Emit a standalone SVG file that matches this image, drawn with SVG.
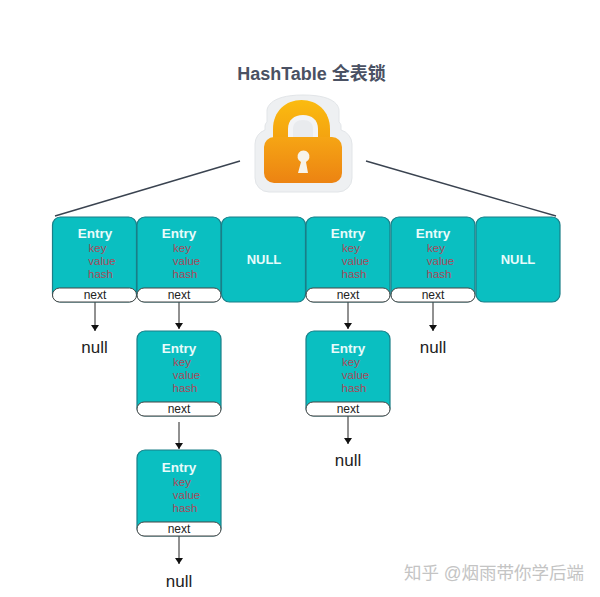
<svg xmlns="http://www.w3.org/2000/svg" width="600" height="597" viewBox="0 0 600 597">
<style>
.box{fill:#0abfc1;stroke:#1a7f88;stroke-width:1.2}
.nx{fill:#fff;stroke:#444;stroke-width:1}
text{font-family:"Liberation Sans","Noto Sans CJK SC",sans-serif;text-anchor:middle}
.e{font-size:13.5px;font-weight:700;fill:#e8fbfb}
.f{font-size:11.500px;fill:#a84a5a}
.n{font-size:12px;fill:#222}
.u{font-size:17px;fill:#222}
.null{font-size:13px;font-weight:700;fill:#e8fbfb}
.c{stroke:#222;stroke-width:1;fill:none}
.r{stroke:#3a4350;stroke-width:1.4;fill:none}
</style>
<defs>
<marker id="a" markerWidth="7" markerHeight="9" refX="6" refY="4" orient="auto" markerUnits="userSpaceOnUse"><path d="M0 0L6 4L0 8Z" fill="#111"/></marker>
<linearGradient id="g" x1="0" y1="0" x2="0" y2="1"><stop offset="0" stop-color="#fbbb10"/><stop offset="1" stop-color="#f4a310"/></linearGradient>
<linearGradient id="g2" x1="0" y1="0" x2="0" y2="1"><stop offset="0" stop-color="#f6a514"/><stop offset="1" stop-color="#ec8312"/></linearGradient>
</defs>
<rect width="600" height="597" fill="#fff"/>
<text id="title" x="311.500" y="80" font-size="18" font-weight="700" fill="#4a5163">HashTable 全表锁</text>
<g id="lock">
<path d="M255 144a15 15 0 0 1 10-14v-3c0-3 1-4 2-5v-11c0-1 0-16 36-16s36 14 36 16v11c2 2 2 3 2 5v3a15 15 0 0 1 11 14v34a14 14 0 0 1-14 14h-69a14 14 0 0 1-14-14z" fill="#eef0f2" stroke="#e2e5e8"/>
<path d="M273 138v-9c0-18 13-29 28.500-29s28.500 11 28.500 29v9z" fill="url(#g)"/>
<path d="M288 138v-9c0-9 6-14 15-14s15 5 15 14v9z" fill="#f3f4f6"/>
<path d="M293 138v-9c0-6 4-9 10-9s10 3 10 9v9z" fill="#e9ebee"/>
<path d="M264 147a10 10 0 0 1 10-10h58a10 10 0 0 1 10 10v26a10 10 0 0 1-10 10h-58a10 10 0 0 1-10-10z" fill="url(#g2)"/>
<path d="M298 173l3-11a6 6 0 1 1 5 0l2 11z" fill="#f7f3ea"/>
</g>
<g id="connectors">
<path class="r" d="M240 161L55 216"/>
<path class="r" d="M366 161L556 216"/>
<path class="c" d="M95 302V331" marker-end="url(#a)"/>
<path class="c" d="M179 302V329" marker-end="url(#a)"/>
<path class="c" d="M179 422V449" marker-end="url(#a)"/>
<path class="c" d="M179 536V564" marker-end="url(#a)"/>
<path class="c" d="M348 302V329" marker-end="url(#a)"/>
<path class="c" d="M348 416V444" marker-end="url(#a)"/>
<path class="c" d="M433 302V331" marker-end="url(#a)"/>
</g>
<g id="n1"><rect class="box" x="52.500" y="217" width="84" height="85" rx="8"/><rect class="nx" x="52.500" y="288" width="84" height="14" rx="7"/><text class="e" x="95" y="238">Entry</text><text class="f" x="97.500" y="252">key</text><text class="f" x="102" y="265">value</text><text class="f" x="100.500" y="278">hash</text><text class="n" x="95" y="299">next</text></g>
<g id="n2"><rect class="box" x="137" y="217" width="84" height="85" rx="8"/><rect class="nx" x="137" y="288" width="84" height="14" rx="7"/><text class="e" x="179" y="238">Entry</text><text class="f" x="182" y="252">key</text><text class="f" x="186.500" y="265">value</text><text class="f" x="185" y="278">hash</text><text class="n" x="179" y="299">next</text></g>
<g id="n3"><rect class="box" x="221.500" y="217" width="84" height="85" rx="8"/><text class="null" x="264" y="264">NULL</text></g>
<g id="n4"><rect class="box" x="306" y="217" width="84" height="85" rx="8"/><rect class="nx" x="306" y="288" width="84" height="14" rx="7"/><text class="e" x="348" y="238">Entry</text><text class="f" x="351" y="252">key</text><text class="f" x="355.500" y="265">value</text><text class="f" x="354" y="278">hash</text><text class="n" x="348" y="299">next</text></g>
<g id="n5"><rect class="box" x="391" y="217" width="84" height="85" rx="8"/><rect class="nx" x="391" y="288" width="84" height="14" rx="7"/><text class="e" x="433" y="238">Entry</text><text class="f" x="436" y="252">key</text><text class="f" x="440.500" y="265">value</text><text class="f" x="439" y="278">hash</text><text class="n" x="433" y="299">next</text></g>
<g id="n6"><rect class="box" x="476" y="217" width="84" height="85" rx="8"/><text class="null" x="518" y="264">NULL</text></g>
<g id="n7"><rect class="box" x="137" y="331" width="84" height="85" rx="8"/><rect class="nx" x="137" y="402" width="84" height="14" rx="7"/><text class="e" x="179" y="353">Entry</text><text class="f" x="182" y="366">key</text><text class="f" x="186.500" y="379">value</text><text class="f" x="185" y="392">hash</text><text class="n" x="179" y="413">next</text></g>
<g id="n8"><rect class="box" x="137" y="450" width="84" height="86" rx="8"/><rect class="nx" x="137" y="522" width="84" height="14" rx="7"/><text class="e" x="179" y="472">Entry</text><text class="f" x="182" y="486">key</text><text class="f" x="186.500" y="499">value</text><text class="f" x="185" y="512">hash</text><text class="n" x="179" y="533">next</text></g>
<g id="n9"><rect class="box" x="306" y="331" width="84" height="85" rx="8"/><rect class="nx" x="306" y="402" width="84" height="14" rx="7"/><text class="e" x="348" y="353">Entry</text><text class="f" x="351" y="366">key</text><text class="f" x="355.500" y="379">value</text><text class="f" x="354" y="392">hash</text><text class="n" x="348" y="413">next</text></g>
<text class="u" x="94.500" y="353">null</text>
<text class="u" x="179" y="587">null</text>
<text class="u" x="348" y="466">null</text>
<text class="u" x="433" y="353">null</text>
<text id="watermark" x="494" y="579" font-size="17.500" fill="#c4c4c4">知乎 @烟雨带你学后端</text>
</svg>
